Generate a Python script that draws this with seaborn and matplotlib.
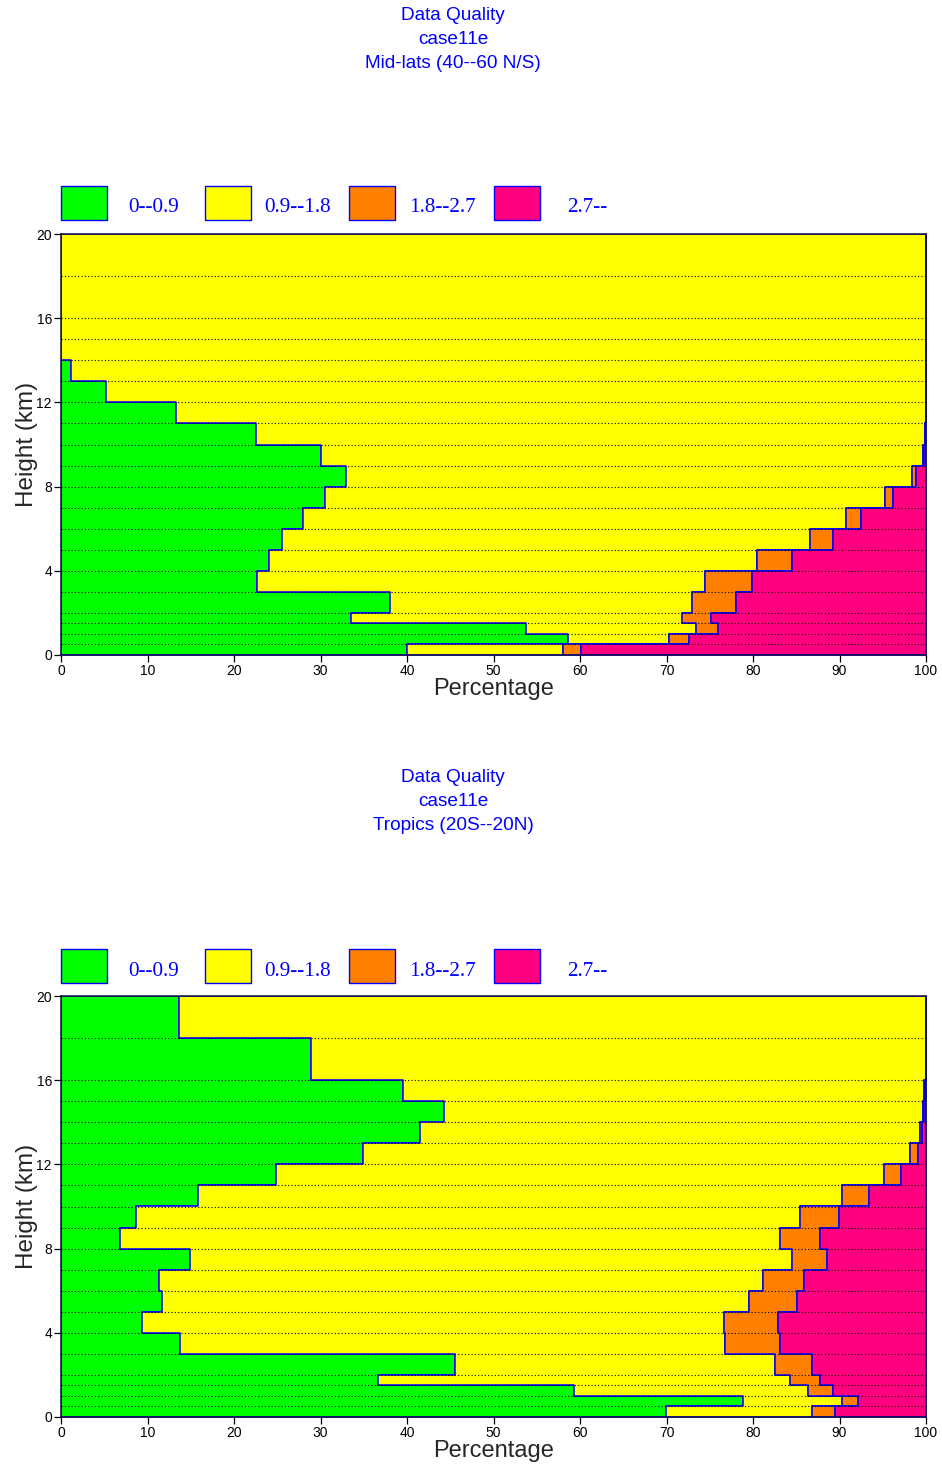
import numpy as np
import pandas as pd
import matplotlib
matplotlib.use("Agg")
import matplotlib.pyplot as plt
from matplotlib.patches import Rectangle
import seaborn as sns

# Height bin edges (km)
height_edges = [0, 0.5, 1, 1.5, 2, 3, 4, 5, 6, 7, 8, 9, 10, 11, 12, 13, 14, 15, 16, 18, 20]

categories = ["0--0.9", "0.9--1.8", "1.8--2.7", "2.7--"]
cat_colors = ["#00FF00", "#FFFF00", "#FF8000", "#FF0080"]

# Mid-lats (40--60 N/S): percentage of each category per height bin (bottom to top)
mid_c1 = [40.0, 58.6, 53.8, 33.5, 38.0, 22.7, 24.1, 25.6, 28.0, 30.5,
          33.0, 30.0, 22.5, 13.3, 5.2, 1.2, 0.0, 0.0, 0.0, 0.0]
mid_c2 = [18.0, 11.7, 19.6, 38.3, 35.0, 51.8, 56.4, 61.0, 62.8, 64.8,
          65.4, 69.7, 77.4, 86.7, 94.8, 98.8, 100.0, 100.0, 100.0, 100.0]
mid_c3 = [2.1, 2.3, 2.6, 3.3, 5.0, 5.4, 4.0, 2.6, 1.7, 0.9,
          0.4, 0.1, 0.0, 0.0, 0.0, 0.0, 0.0, 0.0, 0.0, 0.0]
mid_c4 = [39.9, 27.4, 24.0, 24.9, 22.0, 20.1, 15.5, 10.8, 7.5, 3.8,
          1.2, 0.2, 0.1, 0.0, 0.0, 0.0, 0.0, 0.0, 0.0, 0.0]

# Tropics (20S--20N)
trop_c1 = [69.9, 78.9, 59.3, 36.6, 45.6, 13.8, 9.4, 11.7, 11.3, 14.9,
           6.8, 8.7, 15.8, 24.9, 34.9, 41.5, 44.3, 39.5, 28.9, 13.6]
trop_c2 = [16.9, 11.4, 27.1, 47.7, 36.9, 63.0, 67.2, 67.8, 69.9, 69.6,
           76.3, 76.7, 74.5, 70.3, 63.3, 57.8, 55.4, 60.3, 71.1, 86.4]
trop_c3 = [2.7, 1.8, 2.9, 3.5, 4.3, 6.3, 6.3, 5.6, 4.7, 4.0,
           4.7, 4.5, 3.1, 1.9, 0.9, 0.2, 0.1, 0.1, 0.0, 0.0]
trop_c4 = [10.5, 7.9, 10.7, 12.2, 13.2, 16.9, 17.1, 14.9, 14.1, 11.5,
           12.2, 10.1, 6.6, 2.9, 0.9, 0.5, 0.2, 0.1, 0.0, 0.0]

panels = [
    ("Mid-lats (40--60 N/S)", [mid_c1, mid_c2, mid_c3, mid_c4]),
    ("Tropics (20S--20N)", [trop_c1, trop_c2, trop_c3, trop_c4]),
]

sns.set_style("ticks")
plt.rcParams["font.family"] = ["Liberation Sans", "DejaVu Sans"]

W, H = 942, 1467
fig = plt.figure(figsize=(W / 100, H / 100), dpi=100)

BLUE = "#0000FF"
edges = np.array(height_edges, dtype=float)
mids = (edges[:-1] + edges[1:]) / 2

def fx(px):
    return px / W

def fy(py):
    return 1 - py / H

panel_geom = [
    # (axes top px, axes bottom px, title line centres, legend rect top, legend rect bottom)
    (234, 655, (16, 40, 63), 186, 220),
    (996, 1417, (778, 802, 825), 949, 983),
]

for (region, series), (top, bot, tys, lt, lb) in zip(panels, panel_geom):
    ax = fig.add_axes([fx(61), fy(bot), fx(926) - fx(61), (bot - top) / H])

    rows = []
    for cat, vals in zip(categories, series):
        for m, v in zip(mids, vals):
            rows.append({"height": m, "pct": v, "cat": cat})
    df = pd.DataFrame(rows)

    # seaborn stacks the last hue level at the baseline, so reverse the order
    sns.histplot(
        data=df, y="height", weights="pct", hue="cat",
        hue_order=categories[::-1],
        palette=dict(zip(categories, cat_colors)),
        bins=list(height_edges), multiple="stack", element="step", fill=True,
        alpha=1, edgecolor=BLUE, linewidth=1.1, legend=False, ax=ax,
    )

    ax.set_xlim(0, 100)
    ax.set_ylim(0, 20)
    ax.hlines(edges[1:-1], 0, 100, colors="black", linestyles=(0, (1, 2)),
              linewidth=0.8, zorder=5)

    ax.set_xticks(np.arange(0, 101, 10))
    ax.set_yticks([0, 4, 8, 12, 16, 20])
    ax.tick_params(axis="both", direction="out", length=5, width=0.9,
                   labelsize=10, colors="black", pad=1.5)
    ax.set_xlabel("Percentage", fontsize=17, labelpad=0)
    ax.set_ylabel("Height (km)", fontsize=17.5, labelpad=-1)
    for s in ax.spines.values():
        s.set_visible(True)
        s.set_color("#101040")
        s.set_linewidth(1.1)
        s.set_zorder(6)

    for ty, line in zip(tys, ["Data Quality", "case11e", region]):
        fig.text(fx(453), fy(ty), line, ha="center", va="center",
                 fontsize=13.7, color=BLUE)

    rect_x = [61, 205, 349, 494]
    for rx, cat, col in zip(rect_x, categories, cat_colors):
        fig.patches.append(Rectangle((fx(rx), fy(lb)), fx(46), (lb - lt) / H,
                                     transform=fig.transFigure, facecolor=col,
                                     edgecolor=BLUE, linewidth=1.0))
        fig.text(fx(rx + 23 + 70), fy((lt + lb) / 2 + 5), cat, ha="center",
                 va="center", fontsize=15.2, color=BLUE,
                 family=["Liberation Serif", "DejaVu Serif"])

fig.savefig("out.png", dpi=100)
